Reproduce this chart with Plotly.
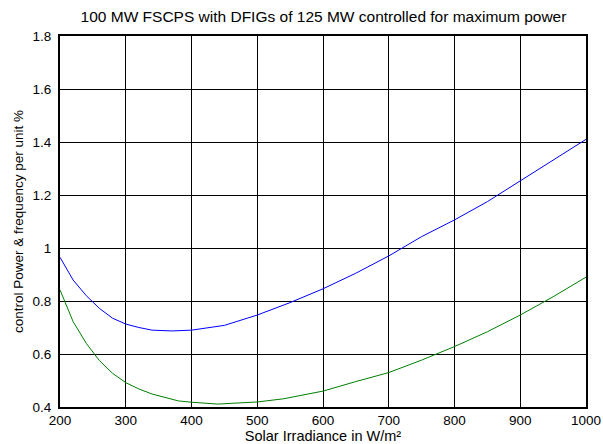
import plotly.graph_objects as go

irr_blue = [200, 220, 240, 260, 280, 300, 320, 340, 370, 400, 450, 500, 550, 600, 650, 700, 750, 800, 850, 900, 950, 1000]
p_blue = [0.965, 0.879, 0.82, 0.772, 0.735, 0.713, 0.700, 0.690, 0.687, 0.690, 0.708, 0.747, 0.794, 0.846, 0.905, 0.970, 1.043, 1.106, 1.175, 1.254, 1.332, 1.410]

irr_green = [200, 220, 240, 260, 280, 300, 320, 340, 380, 400, 440, 480, 500, 540, 560, 600, 650, 700, 750, 800, 850, 900, 950, 1000]
p_green = [0.842, 0.722, 0.64, 0.575, 0.527, 0.492, 0.468, 0.449, 0.423, 0.418, 0.411, 0.415, 0.419, 0.431, 0.441, 0.460, 0.496, 0.530, 0.577, 0.628, 0.684, 0.747, 0.816, 0.890]

x_ticks = [200, 300, 400, 500, 600, 700, 800, 900, 1000]
y_ticks = [0.4, 0.6, 0.8, 1.0, 1.2, 1.4, 1.6, 1.8]
y_labels = ["0.4", "0.6", "0.8", "1", "1.2", "1.4", "1.6", "1.8"]

font = "Liberation Sans, Arial, sans-serif"

fig = go.Figure()
fig.add_trace(go.Scatter(x=irr_blue, y=p_blue, mode="lines",
                         line=dict(color="#0000ff", width=1)))
fig.add_trace(go.Scatter(x=irr_green, y=p_green, mode="lines",
                         line=dict(color="#008000", width=1)))

fig.update_layout(
    width=603, height=444,
    margin=dict(l=60, r=17, t=36, b=37, autoexpand=False),
    paper_bgcolor="white", plot_bgcolor="white",
    showlegend=False,
    font=dict(family=font, size=13, color="black"),
    title=dict(text="100 MW FSCPS with DFIGs of 125 MW controlled for maximum power",
               x=323.5/603, xanchor="center", xref="container",
               y=1-16.5/444, yanchor="middle", yref="container",
               font=dict(size=15.5, family=font)),
    xaxis=dict(range=[200, 1000], tickvals=x_ticks, showgrid=True, automargin=False,
               gridcolor="black", gridwidth=1, showline=True, linecolor="black",
               linewidth=2, mirror=True, ticks="", zeroline=False,
               tickfont=dict(size=13.5),
               title=dict(text="Solar Irradiance in W/m²", standoff=3,
                          font=dict(size=14.5))),
    yaxis=dict(range=[0.4, 1.8], tickvals=y_ticks, ticktext=y_labels, showgrid=True,
               automargin=False, ticklabelstandoff=4,
               gridcolor="black", gridwidth=1, showline=True, linecolor="black",
               linewidth=2, mirror=True, ticks="", zeroline=False,
               tickfont=dict(size=13.5),
               title=dict(text="control Power & frequency per unit %", standoff=6,
                          font=dict(size=13.5))),
)

fig.write_html("out.html")
